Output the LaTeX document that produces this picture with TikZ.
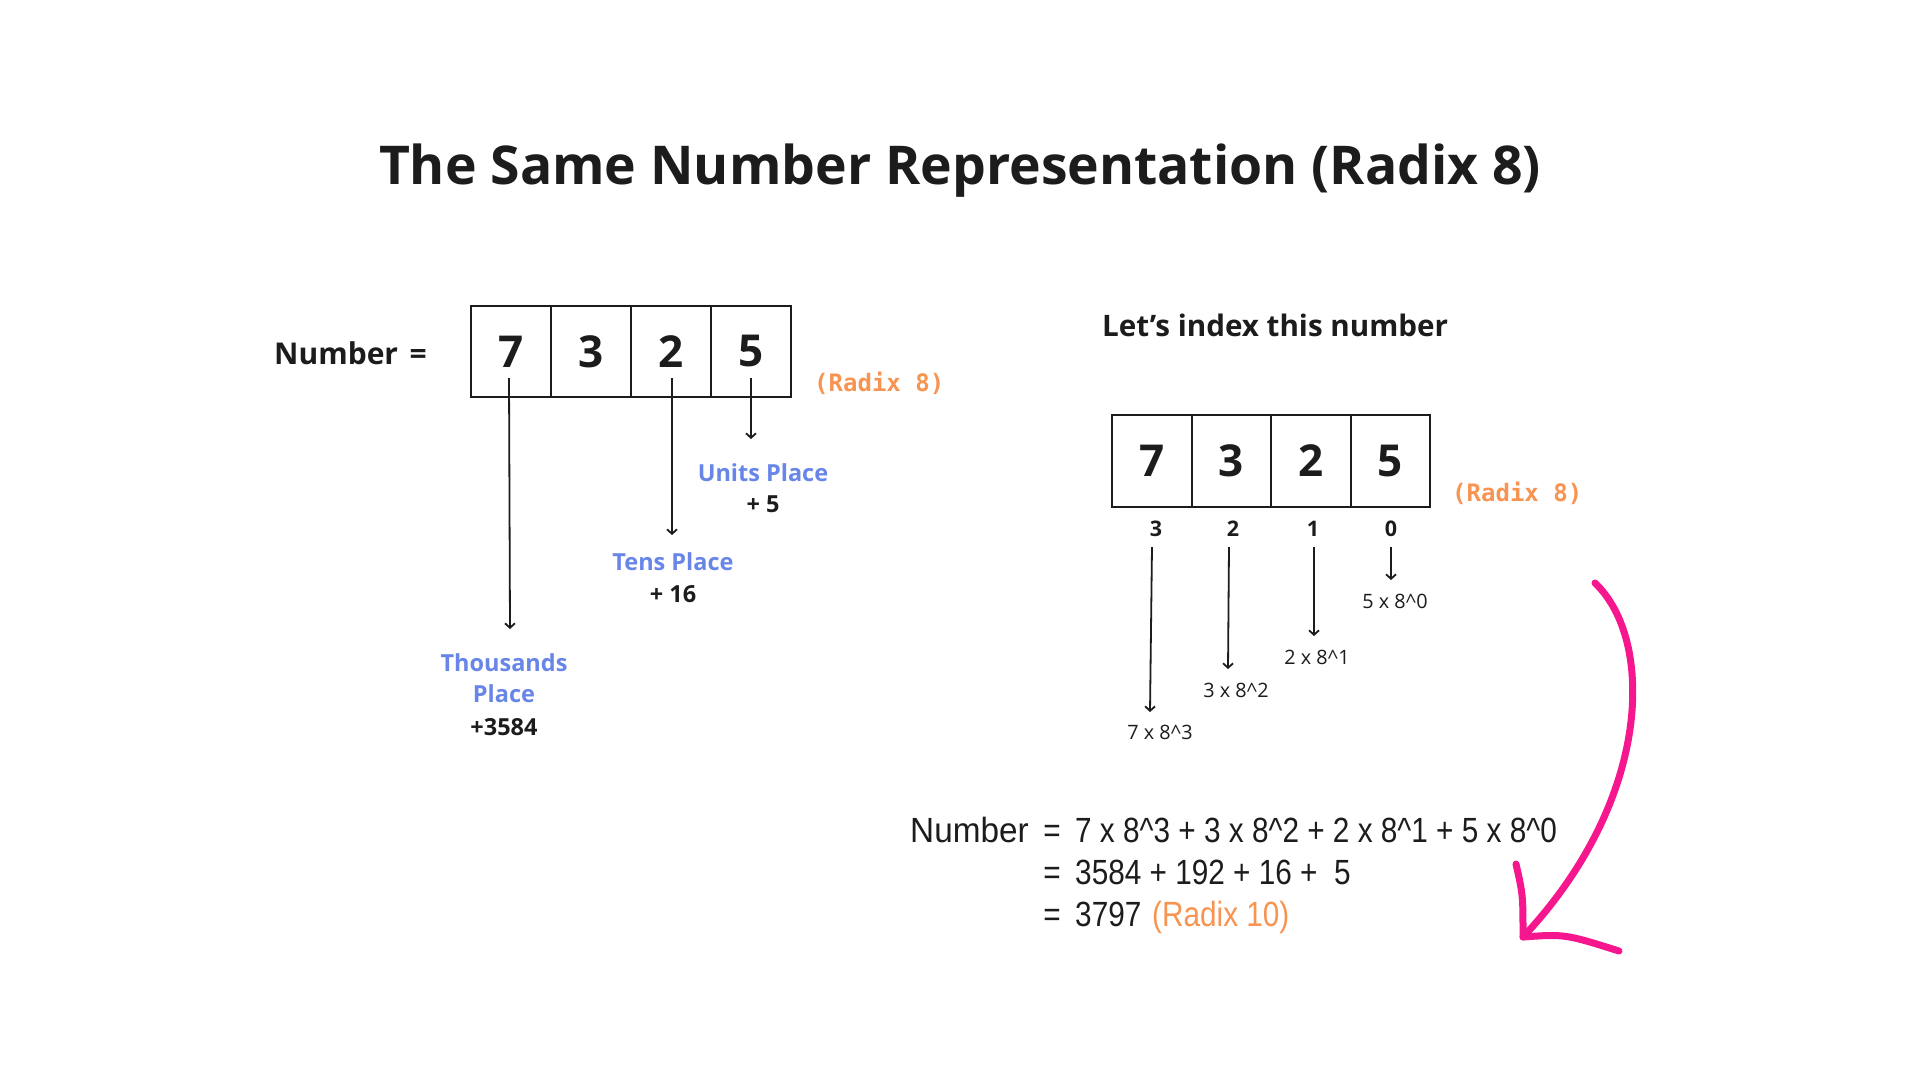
\documentclass[tikz,border=0pt]{standalone}
\usepackage{fontspec}
\usepackage{graphicx}
\setmainfont{Open Sans}
\newfontfamily\eqfont[FakeStretch=0.85]{Liberation Sans}
\newfontfamily\radixmono{DejaVu Sans Mono}
\usetikzlibrary{arrows.meta}
\definecolor{ink}{RGB}{28,28,28}
\definecolor{lblue}{RGB}{104,134,232}
\definecolor{rorange}{RGB}{247,148,82}
\definecolor{hotpink}{RGB}{246,22,142}
\tikzset{
  cell/.style={draw=ink, line width=2pt, minimum width=80pt, minimum height=91pt, inner sep=0pt,
    font=\fontsize{44}{48}\selectfont\bfseries, text=ink},
  arr/.style={draw=ink, line width=1.8pt, -{Straight Barb[length=4.5pt,width=10pt]}},
  mono/.style={font=\radixmono\bfseries\fontsize{24}{26}\selectfont, text=rorange, inner sep=0pt},
  place/.style={font=\fontsize{23.5}{26}\selectfont\bfseries, text=lblue, inner sep=0pt},
  plus/.style={font=\fontsize{23.5}{26}\selectfont\bfseries, text=ink, inner sep=0pt},
  idxnum/.style={font=\fontsize{21.5}{24}\selectfont\bfseries, text=ink, inner sep=0pt},
  term/.style={font=\fontsize{19.8}{22}\selectfont, text=ink, inner sep=0pt},
  eq/.style={font=\eqfont\fontsize{35}{38}\selectfont, text=ink, inner sep=0pt},
  pinkstroke/.style={draw=hotpink, line width=7pt, line cap=round, line join=round}
}
\begin{document}
\begin{tikzpicture}[x=1pt,y=-1pt]
\useasboundingbox[fill=white] (0,0) rectangle (1920,1080);

% title
\node[font=\fontsize{53.5}{60}\selectfont\bfseries, text=ink, anchor=base, inner sep=0pt] (title) at (960,184) {The Same Number Representation (Radix 8)};

% ---------- left part ----------
\node[font=\fontsize{30}{34}\selectfont\bfseries, text=ink, anchor=base west, inner sep=0pt] (numL) at (274,364) {Number};
\node[font=\fontsize{30}{34}\selectfont\bfseries, text=ink, anchor=base east, inner sep=0pt] (eqL) at (427,364) {=};

\node[cell] (L1) at (511,351.5) {7};
\node[cell] (L2) at (591,351.5) {3};
\node[cell] (L3) at (671,351.5) {2};
\node[cell] (L4) at (751,351.5) {5};
\node[mono, anchor=west] (radL) at (814,383) {(Radix 8)};

\coordinate (a7s) at (509,378);
\coordinate (a7e) at (510,629);
\coordinate (a2s) at (672,378);
\coordinate (a2e) at (672,535);
\coordinate (a5s) at (751,378);
\coordinate (a5e) at (751,439);
\draw[arr] (a7s) -- (a7e);
\draw[arr] (a2s) -- (a2e);
\draw[arr] (a5s) -- (a5e);

\node[place] (units) at (763,473) {Units Place};
\node[plus] (unitsv) at (763,504) {+ 5};
\node[place] (tens) at (673,562) {Tens Place};
\node[plus] (tensv) at (673,594) {+ 16};
\node[place] (thou) at (504,663) {Thousands};
\node[place] (thou2) at (504,694) {Place};
\node[plus] (thouv) at (504,727) {+3584};

% ---------- right part ----------
\node[font=\fontsize{29.6}{32}\selectfont\bfseries, text=ink, anchor=base west, inner sep=0pt] (idx) at (1102,336) {Let’s index this number};

\node[cell, minimum width=79.5pt, minimum height=92pt] (R1) at (1151.75,461) {7};
\node[cell, minimum width=79.5pt, minimum height=92pt] (R2) at (1231.25,461) {3};
\node[cell, minimum width=79.5pt, minimum height=92pt] (R3) at (1310.75,461) {2};
\node[cell, minimum width=79.5pt, minimum height=92pt] (R4) at (1390.25,461) {5};
\node[mono, anchor=west] (radR) at (1452,493) {(Radix 8)};

\node[idxnum] (i3) at (1156,529) {3};
\node[idxnum] (i2) at (1233,529) {2};
\node[idxnum] (i1) at (1313,529) {1};
\node[idxnum] (i0) at (1391,529) {0};

\coordinate (b3s) at (1152,547);
\coordinate (b3e) at (1150,712);
\coordinate (b2s) at (1229,547);
\coordinate (b2e) at (1228,669);
\coordinate (b1s) at (1314,547);
\coordinate (b1e) at (1314,636);
\coordinate (b0s) at (1391,547);
\coordinate (b0e) at (1391,580);
\draw[arr] (b3s) -- (b3e);
\draw[arr] (b2s) -- (b2e);
\draw[arr] (b1s) -- (b1e);
\draw[arr] (b0s) -- (b0e);

\node[term] (t3) at (1160,732) {7 x 8\textasciicircum3};
\node[term] (t2) at (1236,690) {3 x 8\textasciicircum2};
\node[term] (t1) at (1317,657) {2 x 8\textasciicircum1};
\node[term] (t0) at (1395,601) {5 x 8\textasciicircum0};

% ---------- equation ----------
\node[eq, anchor=base west] (numE) at (910,842) {\scalebox{1.12}[1]{Number}};
\node[eq, anchor=base] (eq1) at (1052,842) {=};
\node[eq, anchor=base] (eq2) at (1052,884) {=};
\node[eq, anchor=base] (eq3) at (1052,926) {=};
\node[eq, anchor=base west] (ex1) at (1075,842) {7 x 8\textasciicircum3 + 3 x 8\textasciicircum2 + 2 x 8\textasciicircum1 + 5 x 8\textasciicircum0};
\node[eq, anchor=base west] (ex2) at (1075,884) {3584 + 192 + 16 + \ 5};
\node[eq, anchor=base west] (ex3) at (1075,926) {3797};
\node[eq, anchor=base west, text=rorange] (ex3r) at (1152,926) {(Radix 10)};

% ---------- pink arrow ----------
\coordinate (p0) at (1595,583);
\coordinate (ptip) at (1523,937);
\coordinate (pb1) at (1516,864);
\coordinate (pb2) at (1619,951);
\draw[pinkstroke] (p0) .. controls (1655,640) and (1652,800) .. (ptip);
\draw[pinkstroke] (pb1) .. controls (1523,895) .. (ptip) .. controls (1565,934) .. (pb2);
\end{tikzpicture}
\end{document}
